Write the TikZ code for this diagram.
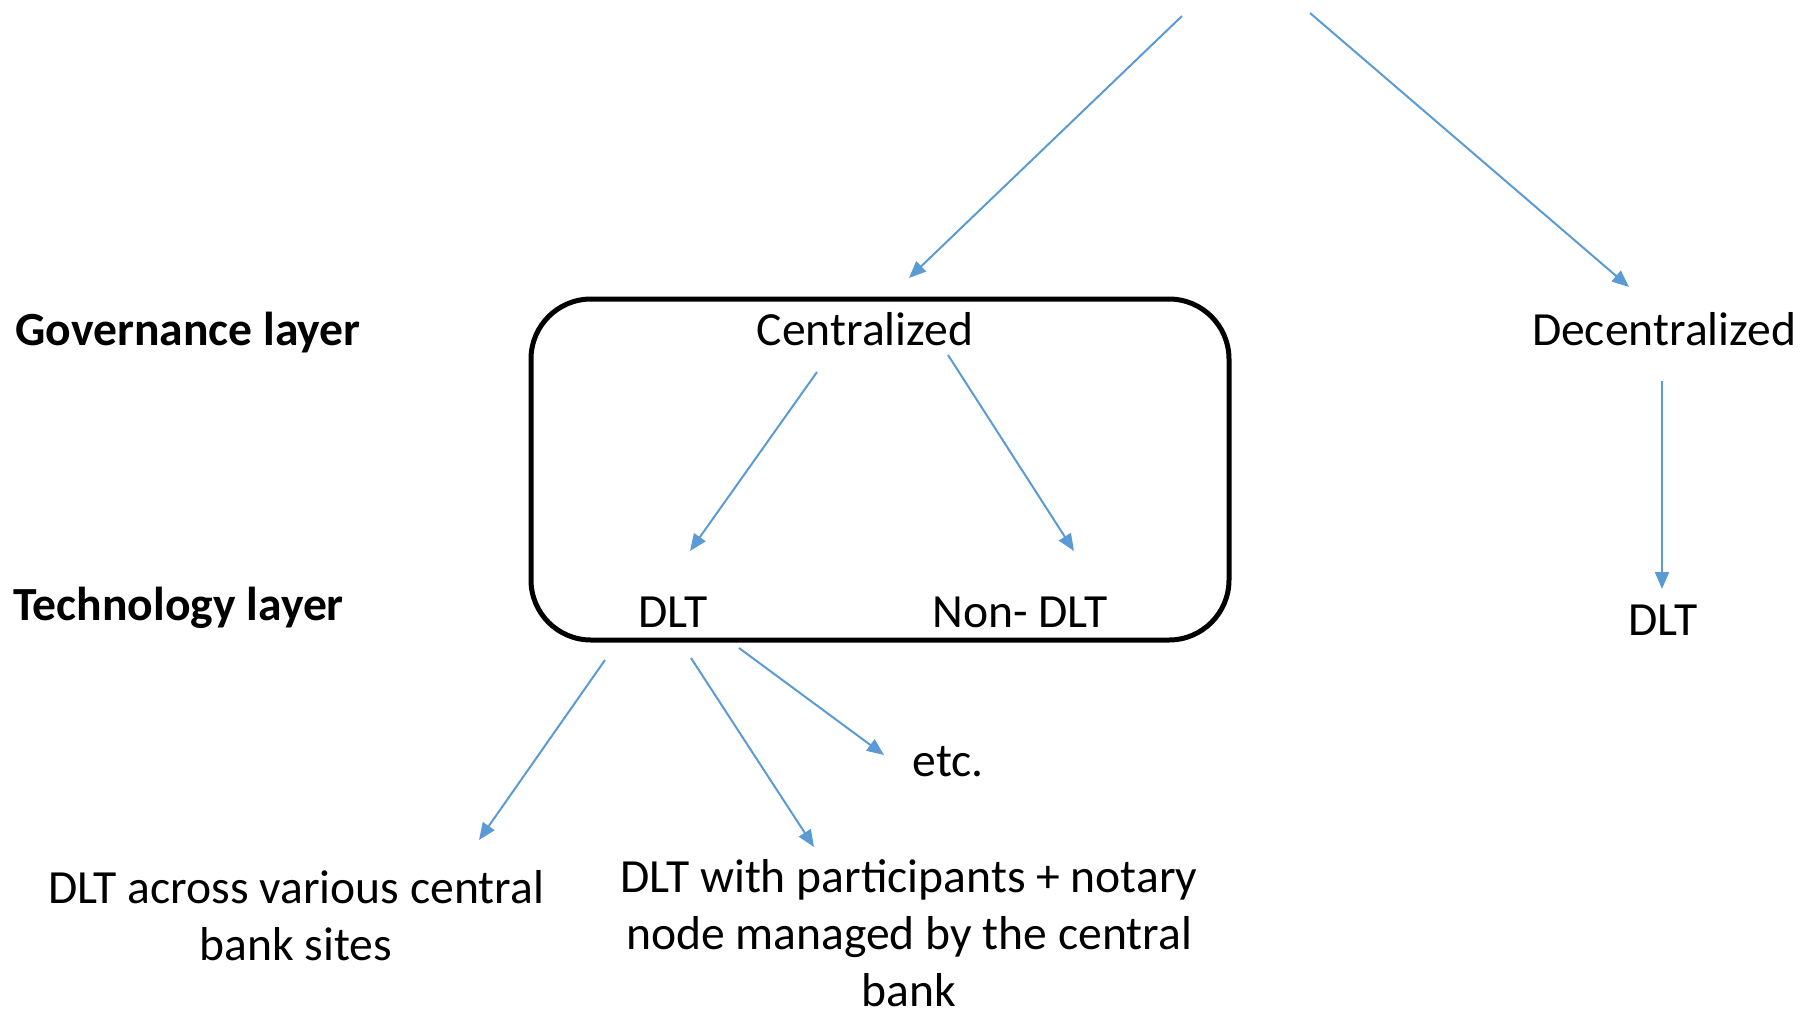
\documentclass[tikz,border=0pt]{standalone}
\usepackage{fontspec}
\setmainfont{Carlito}
\usetikzlibrary{arrows.meta}
\definecolor{linkblue}{HTML}{5B9BD5}
\tikzset{
  txt/.style={inner sep=0pt, font=\fontsize{23.8}{28.5}\selectfont},
  head/.style={txt, font=\fontsize{23.8}{28.5}\selectfont\bfseries},
  flow/.style={draw=linkblue, line width=1pt, -{Triangle[length=8.5pt,width=7pt]}},
  frame/.style={draw, line width=2.5pt, rounded corners=30pt, inner sep=0pt}
}
\begin{document}
\begin{tikzpicture}[x=0.5pt,y=-0.5pt]
\useasboundingbox (0,0) rectangle (1801,1013);

% layer headings
\node[head, anchor=base west] (gov)  at (15,345) {Governance layer};
\node[head, anchor=base west] (tech) at (13,620) {Technology layer};

% centralized branch enclosed in a rounded frame
\node[frame, minimum width=349pt, minimum height=170.5pt] (box) at (880,469.5) {};
\node[txt, anchor=base] (cen)  at (865,345) {Centralized};
\node[txt, anchor=base] (dlt)  at (673,627) {DLT};
\node[txt, anchor=base] (ndlt) at (1020,627) {Non- DLT};

% decentralized branch
\node[txt, anchor=base] (dec)  at (1664,345) {Decentralized};
\node[txt, anchor=base] (ddlt) at (1663,635) {DLT};

% DLT variants (multi-line nodes sit on the baseline of their last line)
\node[txt, anchor=base] (etc) at (948,776) {etc.};
\node[txt, anchor=base, align=center] (across) at (296,960) {DLT across various central\\bank sites};
\node[txt, anchor=base, align=center] (with) at (909,1006) {DLT with participants + notary\\node managed by the central\\bank};

% arrow end points
\coordinate (top1) at (1182,16);
\coordinate (top2) at (1310,13);
\coordinate (cenIn)  at (909,278);
\coordinate (decIn)  at (1629,287);
\coordinate (cenOutL) at (817,372);
\coordinate (cenOutR) at (948,355);
\coordinate (dltIn)  at (690,551);
\coordinate (ndltIn) at (1074,551);
\coordinate (decOut) at (1662,381);
\coordinate (ddltIn) at (1662,589);
\coordinate (dltOutA) at (605,660);
\coordinate (dltOutB) at (691,658);
\coordinate (dltOutC) at (739,648);
\coordinate (acrossIn) at (479,840);
\coordinate (withIn) at (814,847);
\coordinate (etcIn) at (884,755);

% connectors
\draw[flow] (top1) -- (cenIn);
\draw[flow] (top2) -- (decIn);
\draw[flow] (cenOutL) -- (dltIn);
\draw[flow] (cenOutR) -- (ndltIn);
\draw[flow] (decOut) -- (ddltIn);
\draw[flow] (dltOutA) -- (acrossIn);
\draw[flow] (dltOutB) -- (withIn);
\draw[flow] (dltOutC) -- (etcIn);
\end{tikzpicture}
\end{document}
